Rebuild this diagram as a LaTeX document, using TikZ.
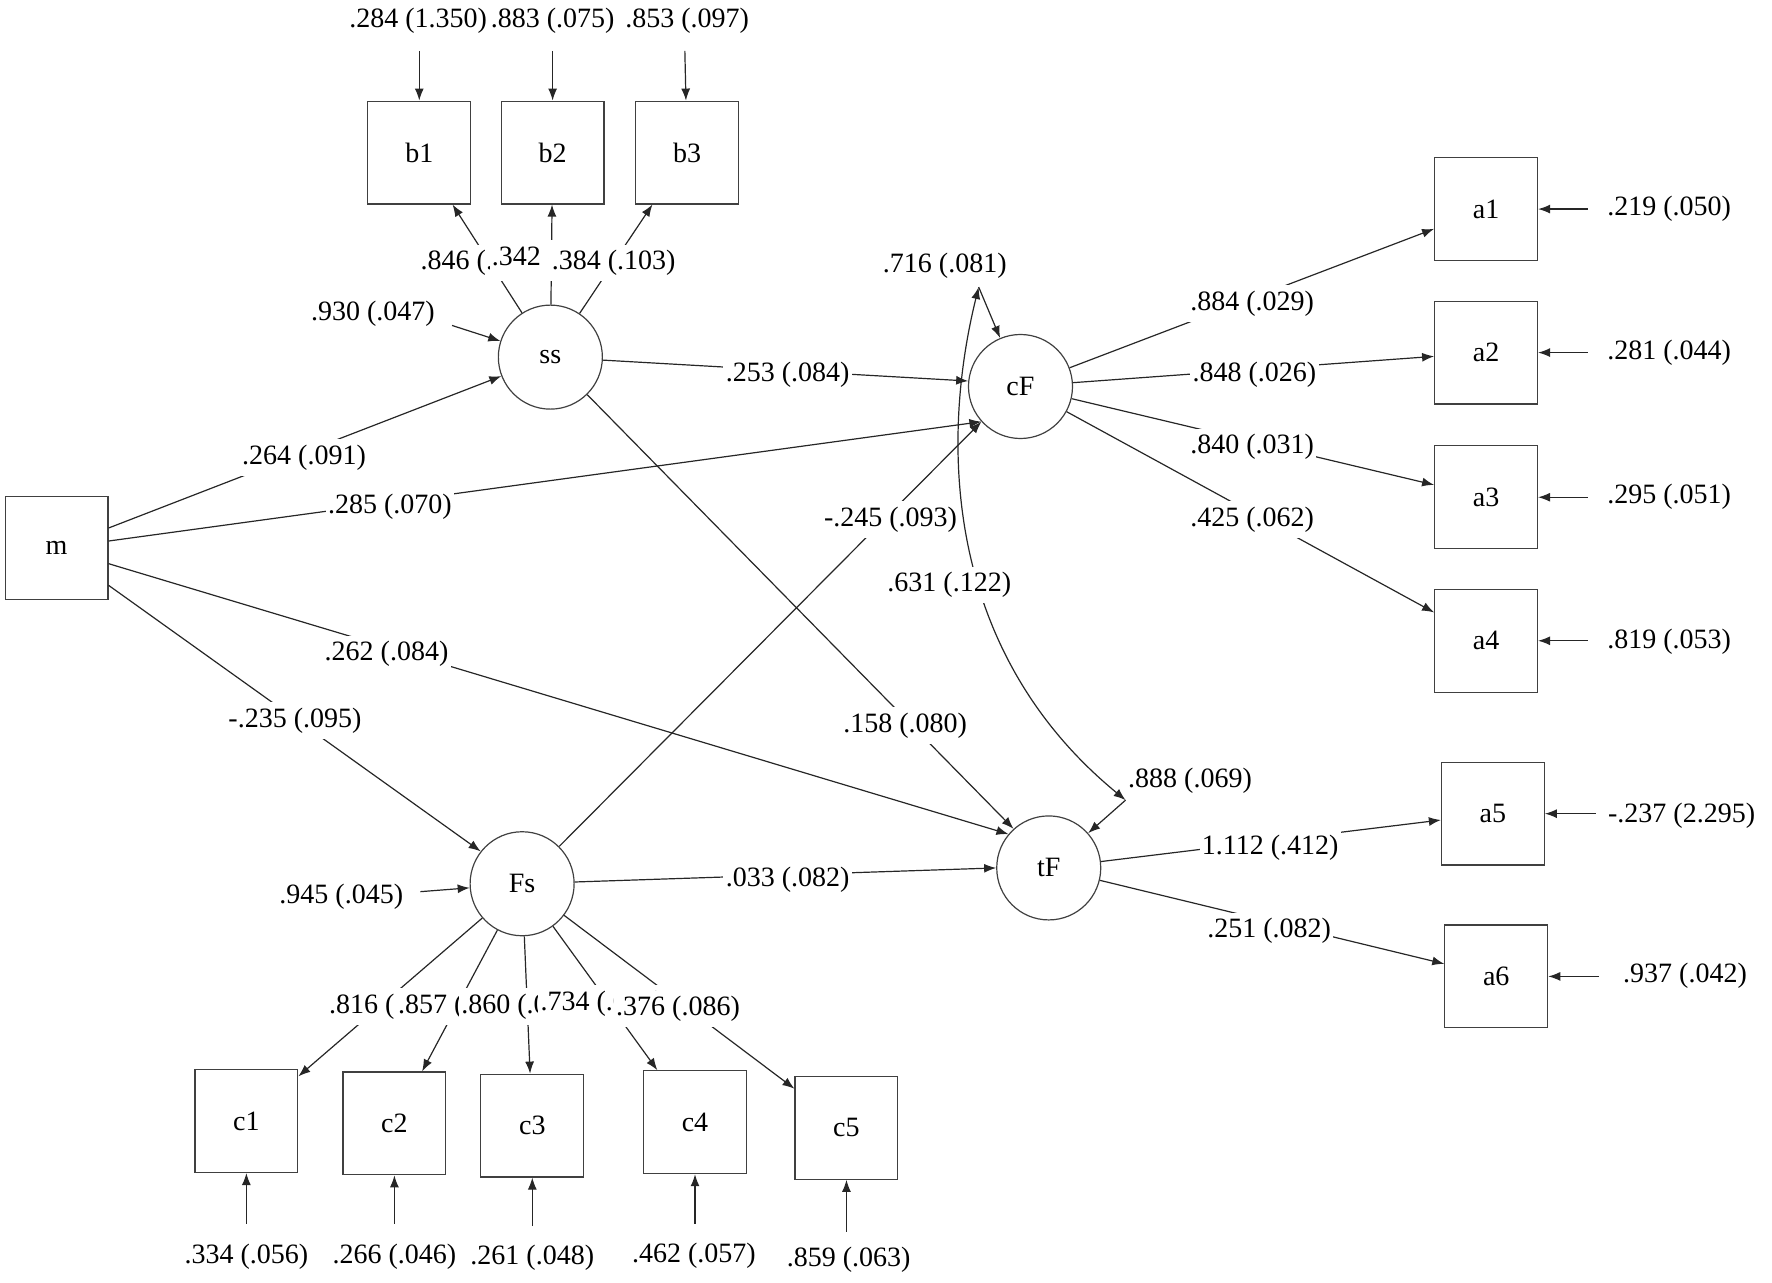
\documentclass[tikz,border=0pt]{standalone}
\usepackage{fontspec}
\setmainfont{Liberation Serif}
\usetikzlibrary{arrows.meta}
\begin{document}
\begin{tikzpicture}[x=0.565pt,y=-0.565pt,
  every node/.style={font=\fontsize{14}{16}\selectfont},
  box/.style={draw=black!75, line width=0.6pt, minimum width=51.4pt, minimum height=51.4pt, inner sep=0pt},
  lat/.style={draw=black!75, line width=0.6pt, circle, minimum size=52pt, inner sep=0pt},
  lbl/.style={fill=white, inner xsep=1.2pt, inner ysep=2.8pt, yshift=-1pt},
  arr/.style={draw=black!85, line width=0.6pt, -{Latex[length=6pt,width=4.5pt]}},
  cov/.style={draw=black!85, line width=0.6pt, {Latex[length=6pt,width=4.5pt]}-{Latex[length=6pt,width=4.5pt]}}]
\useasboundingbox (0,0) rectangle (1568,1135);

% ---- nodes ----
\node[box] (m) at (50,485) {m};
\node[box] (b1) at (371,135) {b1};
\node[box] (b2) at (489,135) {b2};
\node[box] (b3) at (608,135) {b3};
\node[lat] (ss) at (487,316) {ss};
\node[lat] (cF) at (903,342) {cF};
\node[lat] (Fs) at (462,782) {Fs};
\node[lat] (tF) at (928,768) {tF};
\node[box] (a1) at (1315,185) {a1};
\node[box] (a2) at (1315,312) {a2};
\node[box] (a3) at (1315,440) {a3};
\node[box] (a4) at (1315,567) {a4};
\node[box] (a5) at (1321,720) {a5};
\node[box] (a6) at (1324,864) {a6};
\node[box] (c1) at (218,992) {c1};
\node[box] (c2) at (349,994) {c2};
\node[box] (c3) at (471,996) {c3};
\node[box] (c4) at (615,993) {c4};
\node[box] (c5) at (749,998) {c5};

% ---- residual origins ----
\coordinate (rb1) at (371,45);
\coordinate (rb2) at (489,45);
\coordinate (rb3) at (606,45);
\coordinate (rss) at (400,288);
\coordinate (rFs) at (372,789);
\coordinate (rcF) at (866,254);
\coordinate (rtF) at (996,708);
\coordinate (ra1) at (1405,185);
\coordinate (ra2) at (1405,312);
\coordinate (ra3) at (1405,440);
\coordinate (ra4) at (1405,567);
\coordinate (ra5) at (1412,720);
\coordinate (ra6) at (1415,864);
\coordinate (rc1) at (218,1083);
\coordinate (rc2) at (349,1083);
\coordinate (rc3) at (471,1085);
\coordinate (rc4) at (615,1083);
\coordinate (rc5) at (749,1090);

% ---- residual arrows ----
\foreach \n in {b1,b2,b3,ss,Fs,cF,tF,a1,a2,a3,a4,a5,a6,c1,c2,c3,c4,c5}
  \draw[arr] (r\n) -- (\n);

% ---- structural paths ----
\draw[arr] (m) -- (ss);
\draw[arr] (m) -- (cF.222);
\draw[arr] (m) -- (tF.140);
\draw[arr] (m) -- (Fs.142);
\draw[arr] (ss) -- (cF.174);
\draw[arr] (ss) -- (tF.132);
\draw[arr] (Fs) -- (cF.222);
\draw[arr] (Fs) -- (tF.180);
\foreach \t in {b1,b2,b3} \draw[arr] (ss) -- (\t);
\foreach \t in {a1,a2,a3,a4} \draw[arr] (cF) -- (\t);
\foreach \t in {a5,a6} \draw[arr] (tF) -- (\t);
\foreach \t in {c1,c2,c3,c4,c5} \draw[arr] (Fs) -- (\t);
\draw[cov] (rcF) .. controls (830,400) and (840,580) .. (rtF);

% ---- labels ----
\node[lbl] at (370,17) {.284 (1.350)};
\node[lbl] at (489,17) {.883 (.075)};
\node[lbl] at (608,17) {.853 (.097)};
\node[lbl] at (427,231) {.846 (.043)};
\node[lbl] at (490,227) {.342 (.066)};
\node[lbl] at (543,231) {.384 (.103)};
\node[lbl] at (330,276) {.930 (.047)};
\node[lbl] at (269,403) {.264 (.091)};
\node[lbl] at (345,447) {.285 (.070)};
\node[lbl] at (342,577) {.262 (.084)};
\node[lbl] at (261,636) {-.235 (.095)};
\node[lbl] at (697,330) {.253 (.084)};
\node[lbl] at (801,640) {.158 (.080)};
\node[lbl] at (788,458) {-.245 (.093)};
\node[lbl] at (697,777) {.033 (.082)};
\node[lbl] at (302,792) {.945 (.045)};
\node[lbl] at (836,233) {.716 (.081)};
\node[lbl] at (840,516) {.631 (.122)};
\node[lbl] at (1053,689) {.888 (.069)};
\node[lbl] at (1108,267) {.884 (.029)};
\node[lbl] at (1110,330) {.848 (.026)};
\node[lbl] at (1108,394) {.840 (.031)};
\node[lbl] at (1108,458) {.425 (.062)};
\node[lbl] at (1477,183) {.219 (.050)};
\node[lbl] at (1477,310) {.281 (.044)};
\node[lbl] at (1477,438) {.295 (.051)};
\node[lbl] at (1477,566) {.819 (.053)};
\node[lbl] at (1124,748) {1.112 (.412)};
\node[lbl] at (1123,822) {.251 (.082)};
\node[lbl] at (1488,720) {-.237 (2.295)};
\node[lbl] at (1491,862) {.937 (.042)};
\node[lbl] at (346,889) {.816 (.041)};
\node[lbl] at (407,889) {.857 (.036)};
\node[lbl] at (463,889) {.860 (.037)};
\node[lbl] at (533,886) {.734 (.050)};
\node[lbl] at (600,891) {.376 (.086)};
\node[lbl] at (218,1110) {.334 (.056)};
\node[lbl] at (349,1110) {.266 (.046)};
\node[lbl] at (471,1111) {.261 (.048)};
\node[lbl] at (614,1109) {.462 (.057)};
\node[lbl] at (751,1113) {.859 (.063)};
\end{tikzpicture}
\end{document}
